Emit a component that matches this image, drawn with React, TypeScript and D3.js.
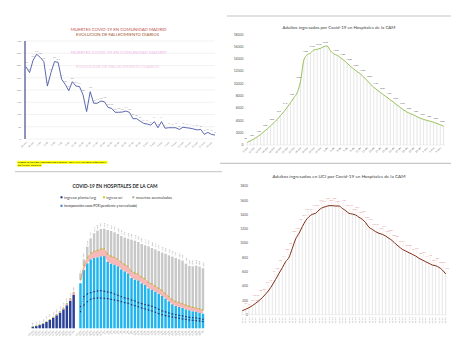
import React from 'react';
import * as d3 from 'd3';

const FONT = 'Lato, "Open Sans", "DejaVu Sans", sans-serif';
const MES = ['ene', 'feb', 'mar', 'abr', 'may', 'jun', 'jul', 'ago', 'sep', 'oct', 'nov', 'dic'];
const dayLabels = (start: Date, n: number, fmt: (d: Date) => string) =>
  d3.range(n).map((i) => fmt(d3.timeDay.offset(start, i)));
const fmtDash = (d: Date) => `${d.getDate()}-${MES[d.getMonth()]}`;
const fmtSlash = (d: Date) => `${String(d.getDate()).padStart(2, '0')}/${String(d.getMonth() + 1).padStart(2, '0')}`;

// ---------- Panel 1: daily deaths ----------
const deaths = [295, 271, 322, 346, 333, 316, 216, 271, 316, 313, 244, 223, 197, 234, 216, 214, 180, 112, 193, 146,
  146, 155, 152, 129, 125, 109, 109, 110, 114, 109, 83, 83, 73, 64, 61, 57, 71, 46, 71, 44,
  46, 46, 46, 39, 48, 46, 44, 41, 37, 39, 19, 27, 19, 16];
const deathLabels = dayLabels(new Date(2020, 2, 28), deaths.length, fmtDash);
const deathTicks = [0, 50, 100, 150, 200, 250, 300, 350, 400];

// ---------- Panel 2: hospitalised adults ----------
const hosp = [450, 700, 980, 1340, 1700, 2170, 2630, 3120, 3630, 4170, 4810, 5420, 6140, 6900, 7700, 8510, 10400, 13820, 14680, 14950,
  15450, 15560, 15720, 15990, 16100, 15300, 14820, 14600, 14200, 13800, 13300, 12800, 12350, 11950, 11550, 11050, 10500, 9900, 9400, 8950,
  8550, 8150, 7750, 7330, 6950, 6500, 6100, 5700, 5350, 5100, 4900, 4600, 4350, 4150, 4000, 3850, 3700, 3500, 3300, 3050];
const hospLabels = dayLabels(new Date(2020, 2, 8), hosp.length, fmtDash);
const hospTicks = [0, 2000, 4000, 6000, 8000, 10000, 12000, 14000, 16000, 18000];

// ---------- Panel 3: stacked hospital bars ----------
const s1Planta = [280, 400, 580, 800, 1100, 1450, 1850, 2270, 2730, 3320, 4020, 4820, 5820];
const s1Uci = [20, 30, 45, 60, 80, 110, 140, 180, 220, 270, 330, 400, 480];
const s2Total = [9615, 12060, 14280, 15730, 16610, 17070, 17360, 17420, 17190, 17010, 16780, 16490, 16140, 15850, 15670, 15500, 15320, 15090, 14740, 14510,
  14330, 14040, 13810, 13520, 13230, 13050, 12760, 12530, 12290, 12060, 11830, 11300, 10900, 10840, 10950, 10780, 10490];
const s2Pcr = [7870, 10200, 11360, 12060, 12300, 12410, 12590, 12640, 11650, 11300, 11130, 10840, 10310, 9960, 9610, 8800, 8510, 8390, 7870, 7580,
  6990, 6760, 6410, 6060, 5710, 5190, 4720, 4200, 3900, 3730, 3550, 3320, 3150, 2970, 2910, 2740, 2560];
const s2Uci = [650, 800, 950, 1050, 1150, 1200, 1250, 1300, 1300, 1290, 1270, 1250, 1230, 1200, 1180, 1150, 1120, 1100, 1070, 1040,
  1010, 980, 950, 920, 890, 860, 830, 800, 780, 760, 740, 720, 700, 680, 660, 640, 620];
const s2PlantaA = [3790, 5540, 6000, 6230, 6410, 6530, 6580, 6470, 6350, 6230, 6000, 5770, 5540, 5300, 5190, 4950, 4780, 4490, 4310, 4140,
  4020, 3850, 3610, 3320, 3030, 2860, 2680, 2510, 2390, 2270, 2160, 2040, 1920, 1860, 1810, 1690, 1570];
const s2PlantaB = [2910, 4080, 4660, 5070, 5240, 5300, 5300, 5240, 5190, 5070, 4950, 4840, 4660, 4490, 4370, 4140, 3960, 3790, 3550, 3380,
  3200, 3030, 2800, 2560, 2390, 2210, 2100, 1980, 1860, 1750, 1630, 1570, 1460, 1400, 1340, 1280, 1170];
const barLabels = dayLabels(new Date(2020, 2, 10), 51, fmtDash);
const legend1 = ['ingreso planta/urg', 'ingreso uci', 'muertos acumulados'];
const legend2 = 'incorporación casos PCR (pendiente y no realizado)';

// ---------- Panel 4: ICU adults ----------
const uci = [56, 75, 98, 126, 159, 196, 238, 289, 345, 415, 494, 578, 657, 741, 802, 928, 1058, 1138, 1231, 1315,
  1371, 1404, 1418, 1464, 1497, 1511, 1525, 1525, 1520, 1520, 1487, 1455, 1418, 1408, 1394, 1362, 1334, 1287, 1222, 1194,
  1161, 1138, 1124, 1100, 1068, 1035, 989, 951, 914, 891, 867, 844, 821, 788, 765, 741, 718, 695, 685, 662, 625, 570];
const uciLabels = dayLabels(new Date(2020, 2, 8), uci.length, fmtSlash);
const uciTicks = [0, 200, 400, 600, 800, 1000, 1200, 1400, 1600, 1800];

export default function App() {
  // Panel 1 scales
  const p1x = d3.scaleLinear().domain([0, deaths.length - 1]).range([26, 215]);
  const p1y = d3.scaleLinear().domain([0, 400]).range([139, 41]);
  const p1line = d3.line<number>().x((_, i) => p1x(i)).y((d) => p1y(d));

  // Panel 2 scales
  const p2x = d3.scaleLinear().domain([0, hosp.length - 1]).range([247.3, 443.6]);
  const p2y = d3.scaleLinear().domain([0, 18000]).range([145, 34.3]);
  const p2line = d3.line<number>().x((_, i) => p2x(i)).y((d) => p2y(d)).curve(d3.curveMonotoneX);

  // Panel 3 scales
  const p3x = d3.scaleBand<string>().domain(d3.range(51).map(String)).range([31.6, 204.2]).paddingInner(0.28);
  const p3y = d3.scaleLinear().domain([0, 20000]).range([328.3, 213.9]);
  const bw = p3x.bandwidth();
  const s2slot = (j: number) => p3x(String(14 + j)) as number;
  const s1slot = (i: number) => p3x(String(i)) as number;
  const pinkArea = d3.area<number>()
    .x((_, j) => s2slot(j) + bw / 2)
    .y0((_, j) => p3y(s2Pcr[j]))
    .y1((_, j) => p3y(s2Pcr[j] + s2Uci[j]));
  const uciTopLine = d3.line<number>().x((_, j) => s2slot(j) + bw / 2).y((_, j) => p3y(s2Pcr[j] + s2Uci[j]));
  const lineA = d3.line<number>().x((_, j) => s2slot(j) + bw / 2).y((d) => p3y(d));

  // Panel 4 scales
  const p4x = d3.scaleLinear().domain([0, uci.length - 1]).range([242.3, 445.7]);
  const p4y = d3.scaleLinear().domain([0, 1800]).range([314.7, 186]);
  const p4line = d3.line<number>().x((_, i) => p4x(i)).y((d) => p4y(d)).curve(d3.curveMonotoneX);

  const gray = '#595959';

  return (
    <svg width={459} height={357} viewBox="0 0 459 357" style={{ position: 'absolute', left: 0, top: 0, background: '#fff' }} fontFamily={FONT}>
      <rect width={459} height={357} fill="#fff" />

      {/* ================= Panel 1 ================= */}
      <g>
        <text x={118.7} y={31} fontSize={4} fill="#c0504d" textAnchor="middle" textLength={96} lengthAdjust="spacingAndGlyphs">MUERTES COVID-19 EN COMUNIDAD MADRID</text>
        <text x={117.5} y={36} fontSize={4} fill="#a0522d" textAnchor="middle" textLength={83} lengthAdjust="spacingAndGlyphs">EVOLUCION DE FALLECIMIENTO DIARIOS</text>
        <text x={118.7} y={54} fontSize={4} fill="#f4b0ee" textAnchor="middle" textLength={96} lengthAdjust="spacingAndGlyphs">MUERTES COVID-19 EN COMUNIDAD MADRID</text>
        <text x={117.5} y={68} fontSize={4} fill="#f6c2e6" textAnchor="middle" textLength={83} lengthAdjust="spacingAndGlyphs">EVOLUCION DE FALLECIMIENTO DIARIOS</text>
        {deathTicks.map((t) => (
          <g key={t}>
            <line x1={25} x2={215} y1={p1y(t)} y2={p1y(t)} stroke="#e4e4e4" strokeWidth={0.5} />
            <text x={21} y={p1y(t) + 0.8} fontSize={2.4} fill="#7f7f7f" textAnchor="end">{t}</text>
          </g>
        ))}
        <line x1={25} x2={25} y1={41} y2={139} stroke="#1f2a6e" strokeWidth={1} />
        <path d={p1line(deaths) || ''} fill="none" stroke="#4a57a8" strokeWidth={0.9} />
        {deaths.map((d, i) => (
          <text key={i} x={p1x(i)} y={p1y(d) - (i % 2 ? 2.5 : 3.5)} fontSize={1.9} fill="#8c8c8c" textAnchor="middle">{d}</text>
        ))}
        {deathLabels.map((l, i) => i % 2 === 0 ? (
          <text key={l} transform={`translate(${p1x(i) + 1},${142.5}) rotate(-45)`} fontSize={2.3} fill="#7f7f7f" textAnchor="end">{l}</text>
        ) : null)}
        <rect x={17.3} y={160.8} width={90} height={3} fill="#ffff00" />
        <rect x={17.3} y={163.8} width={24.4} height={2.9} fill="#ffff00" />
        <text x={17.6} y={163.1} fontSize={2.2} fill="#222" textLength={89} lengthAdjust="spacingAndGlyphs">FUENTE: DATOS DEL MINISTERIO DE SANIDAD Y DE LA CAM. ELABORACIÓN PROPIA</text>
        <text x={17.6} y={166} fontSize={2.2} fill="#222" textLength={23.5} lengthAdjust="spacingAndGlyphs">GRÁFICO: PROPIO</text>
        <line x1={15} x2={222} y1={171.7} y2={171.7} stroke="#9a9a9a" strokeWidth={0.6} />
      </g>

      {/* ================= Panel 2 ================= */}
      <g>
        <line x1={227} x2={451} y1={16} y2={16} stroke="#9a9a9a" strokeWidth={0.6} />
        <line x1={220} x2={451} y1={163.3} y2={163.3} stroke="#8a8a8a" strokeWidth={0.6} />
        <text x={339} y={29.3} fontSize={4} fill="#404040" textAnchor="middle" textLength={113} lengthAdjust="spacingAndGlyphs">Adultos ingresados por Covid-19 en Hospitales de la CAM</text>
        {hospTicks.map((t) => (
          <text key={t} x={243.5} y={p2y(t) + 1.2} fontSize={3.4} fill={gray} textAnchor="end">{t}</text>
        ))}
        {hosp.map((d, i) => (
          <line key={i} x1={p2x(i)} x2={p2x(i)} y1={p2y(0)} y2={p2y(d)} stroke="#e3e3e3" strokeWidth={0.9} />
        ))}
        <line x1={246} x2={445} y1={p2y(0)} y2={p2y(0)} stroke="#d9d9d9" strokeWidth={0.4} />
        <path d={p2line(hosp) || ''} fill="none" stroke="#8dbb4a" strokeWidth={0.9} />
        {hosp.map((d, i) => i % 2 === 0 ? (
          <text key={i} x={p2x(i) + (i < 25 ? -2 : 2)} y={p2y(d) - 3} fontSize={1.9} fill="#555" textAnchor="middle">{d}</text>
        ) : null)}
        {hospLabels.map((l, i) => i % 2 === 0 ? (
          <text key={l} transform={`translate(${p2x(i) + 1},${148}) rotate(-45)`} fontSize={2.4} fill={gray} textAnchor="end">{l}</text>
        ) : null)}
      </g>

      {/* ================= Panel 3 ================= */}
      <g>
        <text x={115} y={187.7} fontSize={5.6} fontWeight="bold" fill="#262626" textAnchor="middle" textLength={85} lengthAdjust="spacingAndGlyphs">COVID-19 EN HOSPITALES DE LA CAM</text>
        <rect x={60.5} y={196.3} width={2} height={2} fill="#1f2f7a" />
        <text x={64} y={198.7} fontSize={3.3} fill="#404040" textLength={32} lengthAdjust="spacingAndGlyphs">{legend1[0]}</text>
        <rect x={103} y={196.3} width={2} height={2} fill="#c7c820" />
        <text x={106.3} y={198.7} fontSize={3.3} fill="#404040" textLength={16} lengthAdjust="spacingAndGlyphs">{legend1[1]}</text>
        <rect x={132.3} y={196.3} width={2} height={2} fill="#a6a6a6" />
        <text x={136} y={198.7} fontSize={3.3} fill="#404040" textLength={36} lengthAdjust="spacingAndGlyphs">{legend1[2]}</text>
        <rect x={60.5} y={204.8} width={2} height={2} fill="#2e75d6" />
        <text x={64} y={207.2} fontSize={3.1} fill="#262626" textLength={73} lengthAdjust="spacingAndGlyphs">{legend2}</text>

        {/* section 1 */}
        {s1Planta.map((v, i) => (
          <g key={'s1' + i}>
            <rect x={s1slot(i)} width={bw} y={p3y(v)} height={p3y(0) - p3y(v)} fill="#2a3f96" />
            <rect x={s1slot(i)} width={bw} y={p3y(v + s1Uci[i])} height={p3y(v) - p3y(v + s1Uci[i])} fill="#f4a7a7" />
            <circle cx={s1slot(i) + bw / 2} cy={p3y(v + s1Uci[i])} r={0.6} fill="#8fc43c" />
            <text transform={`translate(${s1slot(i) + bw / 2 + 0.6},${p3y(v + s1Uci[i]) - 1.2}) rotate(-90)`} fontSize={1.7} fill="#7f7f7f">{v + s1Uci[i]}</text>
          </g>
        ))}
        {/* section 2 */}
        {s2Total.map((t, j) => (
          <g key={'s2' + j}>
            <rect x={s2slot(j)} width={bw} y={p3y(t)} height={p3y(s2Pcr[j] + s2Uci[j]) - p3y(t)} fill="#c8c8c8" />
            <rect x={s2slot(j)} width={bw} y={p3y(s2Pcr[j])} height={p3y(0) - p3y(s2Pcr[j])} fill="#22b4ec" />
            <text transform={`translate(${s2slot(j) + bw / 2 + 0.6},${p3y(t) - 0.8}) rotate(-90)`} fontSize={1.7} fill="#7f7f7f">{t}</text>
          </g>
        ))}
        <path d={pinkArea(s2Pcr) || ''} fill="#f4a0a0" opacity={0.75} />
        <path d={uciTopLine(s2Pcr) || ''} fill="none" stroke="#e8a030" strokeWidth={0.5} />
        {s2Pcr.map((v, j) => (
          <circle key={'g' + j} cx={s2slot(j) + bw / 2} cy={p3y(v + s2Uci[j])} r={0.7} fill="#8fc43c" />
        ))}
        <path d={lineA(s2PlantaA) || ''} fill="none" stroke="#1c2a6b" strokeWidth={0.4} strokeDasharray="1,1.5" />
        <path d={lineA(s2PlantaB) || ''} fill="none" stroke="#1c2a6b" strokeWidth={0.4} strokeDasharray="1,1.5" />
        {s2PlantaA.map((v, j) => (
          <rect key={'a' + j} x={s2slot(j) + bw / 2 - 0.6} y={p3y(v) - 0.6} width={1.2} height={1.2} fill="#1c2a6b" />
        ))}
        {s2PlantaB.map((v, j) => (
          <rect key={'b' + j} x={s2slot(j) + bw / 2 - 0.6} y={p3y(v) - 0.6} width={1.2} height={1.2} fill="#1c2a6b" />
        ))}
        {barLabels.map((l, i) => i === 13 ? null : (
          <text key={l} transform={`translate(${(p3x(String(i)) as number) + bw},${331}) rotate(-45)`} fontSize={2.3} fill="#8c8c8c" textAnchor="end">{l}</text>
        ))}
      </g>

      {/* ================= Panel 4 ================= */}
      <g>
        <text x={339} y={178.3} fontSize={4.2} fill="#404040" textAnchor="middle" textLength={133} lengthAdjust="spacingAndGlyphs">Adultos ingresados en UCI por Covid-19 en Hospitales de la CAM</text>
        {uciTicks.map((t) => (
          <text key={t} x={248} y={p4y(t) + 1.2} fontSize={3.4} fill={gray} textAnchor="end">{t}</text>
        ))}
        {uci.map((d, i) => (
          <line key={i} x1={p4x(i)} x2={p4x(i)} y1={p4y(0)} y2={p4y(d)} stroke="#e3e3e3" strokeWidth={0.9} />
        ))}
        <line x1={241} x2={447} y1={p4y(0)} y2={p4y(0)} stroke="#d9d9d9" strokeWidth={0.4} />
        {uci.map((d, i) => {
          const dx = i < 4 ? 2.5 : i < 30 ? -1.5 : 1.5;
          const dy = i % 2 ? 4 : 6.5;
          return (
            <g key={'l' + i}>
              <line x1={p4x(i)} x2={p4x(i) + dx} y1={p4y(d) - 1} y2={p4y(d) - dy} stroke="#f6c4c4" strokeWidth={0.3} />
              <text x={p4x(i) + dx} y={p4y(d) - dy - 0.5} fontSize={1.9} fill="#d98080" textAnchor={i < 4 ? 'start' : 'middle'}>{d}</text>
            </g>
          );
        })}
        <path d={p4line(uci) || ''} fill="none" stroke="#7b2c14" strokeWidth={1} />
        {uciLabels.map((l, i) => (
          <text key={l} transform={`translate(${p4x(i) + 0.7},${317.5}) rotate(-90)`} fontSize={2.1} fill="#7f7f7f" textAnchor="end">{l}</text>
        ))}
      </g>
    </svg>
  );
}
